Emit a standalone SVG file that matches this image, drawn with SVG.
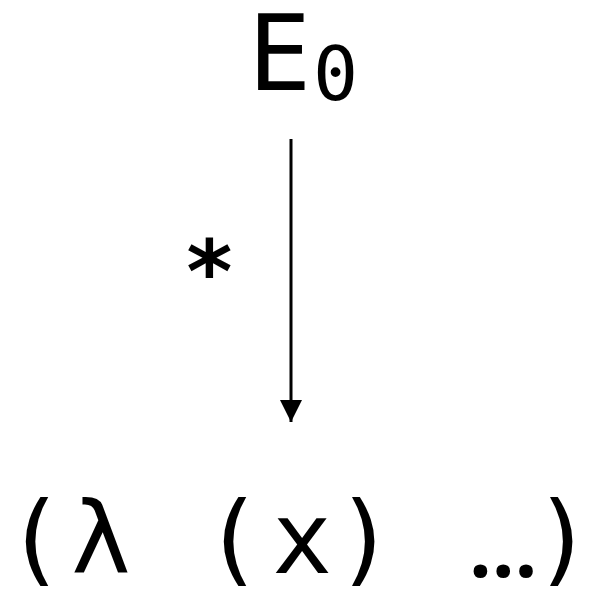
<svg xmlns="http://www.w3.org/2000/svg" width="594" height="595" viewBox="0 0 594 595">
<style>
.t{font-family:"DejaVu Sans Mono",monospace;fill:#000}
.c{stroke:#000;stroke-width:3;fill:none}
</style>
<defs>
<marker id="ah" markerUnits="userSpaceOnUse" markerWidth="22" markerHeight="24" refX="22" refY="11" orient="auto">
<path d="M0,0 L22,11 L0,22 Z" fill="#000"/>
</marker>
</defs>
<rect width="594" height="595" fill="#fff"/>
<g id="top">
<text class="t" x="248" y="90" font-size="105">E</text>
<text class="t" x="313" y="100" font-size="75">0</text>
</g>
<g id="bottom">
<text class="t" font-size="100" y="573" x="5 71 137 203 272 335">(λ (x)</text>
<text font-family="Open Sans, sans-serif" font-weight="bold" font-size="80" x="469" y="577">…</text>
<text class="t" font-size="100" y="573" x="533">)</text>
</g>
<g id="connectors">
<line class="c" x1="291" y1="139" x2="291" y2="422" marker-end="url(#ah)"/>
<text class="t" x="183" y="302" font-size="88" font-weight="bold">*</text>
</g>
</svg>
